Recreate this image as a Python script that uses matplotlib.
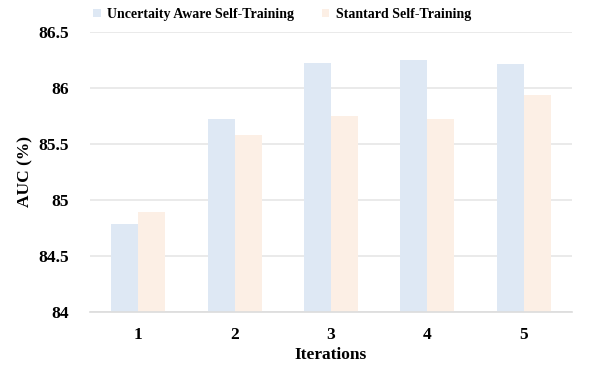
import matplotlib.pyplot as plt
import numpy as np

# data
iterations = ['1', '2', '3', '4', '5']
uncertainty_aware = [84.78, 85.72, 86.22, 86.25, 86.21]
standard = [84.89, 85.58, 85.75, 85.72, 85.94]
yticks = [84, 84.5, 85, 85.5, 86, 86.5]
ytick_labels = ['84', '84.5', '85', '85.5', '86', '86.5']

plt.rcParams['font.family'] = ['Liberation Serif', 'DejaVu Serif']
plt.rcParams['font.weight'] = 'bold'

fig = plt.figure(figsize=(5.98, 3.68), dpi=100)
ax = fig.add_axes([90/598, 1 - 311.5/368, 482/598, 279.5/368])

x = np.arange(len(iterations))
w = 0.28
ax.bar(x - w/2, uncertainty_aware, w, color='#dee8f4', label='Uncertaity Aware Self-Training', zorder=2)
ax.bar(x + w/2, standard, w, color='#fcefe5', label='Stantard Self-Training', zorder=2)

ax.set_xlim(-0.5, len(iterations) - 0.5)
ax.set_ylim(84, 86.5)
ax.set_yticks(yticks)
ax.set_yticklabels(ytick_labels)
ax.set_xticks(x)
ax.set_xticklabels(iterations)
ax.tick_params(axis='both', length=0, labelsize=12.5)
ax.tick_params(axis='y', pad=15)
ax.tick_params(axis='x', pad=11)
ax.grid(axis='y', color='#e6e6e6', linewidth=1.2, zorder=0)
for s in ['top', 'right', 'left']:
    ax.spines[s].set_visible(False)
ax.spines['bottom'].set_color('#dcdcdc')
ax.spines['bottom'].set_linewidth(1.2)

ax.set_ylabel('AUC (%)', fontsize=12.5, fontweight='bold', labelpad=4)
ax.set_xlabel('Iterations', fontsize=12.5, fontweight='bold', labelpad=3)

fig.legend(loc='upper left', bbox_to_anchor=(93/598, 1 - 8/368), ncol=2, frameon=False,
           fontsize=10, handlelength=0.55, handleheight=0.55, columnspacing=2.0,
           handletextpad=0.45, borderpad=0, borderaxespad=0)

fig.savefig('out.png', dpi=100)
